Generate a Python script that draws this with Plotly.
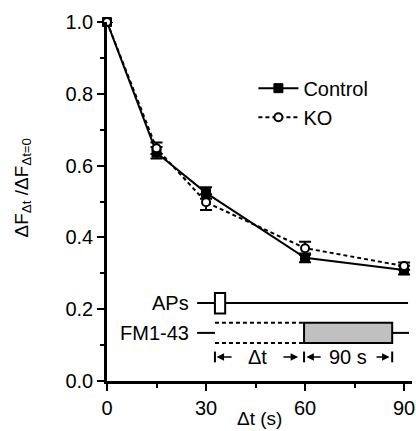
import plotly.graph_objects as go

# ---- data ----
dt = [0, 15, 30, 60, 90]
control = [1.0, 0.636, 0.524, 0.343, 0.309]
control_err = [0.0, 0.016, 0.016, 0.012, 0.012]
ko = [1.0, 0.648, 0.498, 0.370, 0.320]
ko_err = [0.0, 0.016, 0.022, 0.018, 0.010]

x_ticks = [0, 30, 60, 90]
y_ticks = [0.0, 0.2, 0.4, 0.6, 0.8, 1.0]

FONT = "Liberation Sans, Arial, sans-serif"
FS = 20

fig = go.Figure()

fig.add_trace(go.Scatter(
    x=dt, y=control, name="Control", mode="lines+markers",
    line=dict(color="black", width=2),
    marker=dict(symbol="square", size=9, color="black",
                line=dict(color="black", width=1)),
    error_y=dict(type="data", array=control_err, color="black", thickness=2, width=6),
    cliponaxis=False,
))
fig.add_trace(go.Scatter(
    x=dt, y=ko, name="KO", mode="lines+markers",
    line=dict(color="black", width=2, dash="4px,3px"),
    marker=dict(symbol="circle", size=8, color="white",
                line=dict(color="black", width=2)),
    error_y=dict(type="data", array=ko_err, color="black", thickness=2, width=6),
    cliponaxis=False,
))

# ---- protocol inset (decoration) ----
shapes = []
blk = dict(color="black", width=2)
shapes.append(dict(type="line", xref="x", yref="y", x0=27.3, x1=91.2, y0=0.217, y1=0.217, line=blk))
shapes.append(dict(type="rect", xref="x", yref="y", x0=32.7, x1=35.8, y0=0.188, y1=0.245,
                   line=blk, fillcolor="white"))
shapes.append(dict(type="line", xref="x", yref="y", x0=27.3, x1=32.7, y0=0.134, y1=0.134, line=blk))
shapes.append(dict(type="line", xref="x", yref="y", x0=32.7, x1=59.7, y0=0.162, y1=0.162,
                   line=dict(color="black", width=2, dash="4px,3px")))
shapes.append(dict(type="line", xref="x", yref="y", x0=32.7, x1=59.7, y0=0.106, y1=0.106,
                   line=dict(color="black", width=2, dash="4px,3px")))
shapes.append(dict(type="rect", xref="x", yref="y", x0=59.7, x1=86.4, y0=0.106, y1=0.162,
                   line=blk, fillcolor="#c0c0c0"))
shapes.append(dict(type="line", xref="x", yref="y", x0=86.4, x1=91.5, y0=0.134, y1=0.134, line=blk))
for xb in [32.7, 59.7, 86.4]:
    shapes.append(dict(type="line", xref="x", yref="y", x0=xb, x1=xb, y0=0.052, y1=0.082, line=blk))

tf = dict(size=FS, family=FONT, color="black")
annotations = [
    dict(x=25.3, y=0.217, xref="x", yref="y", text="APs", showarrow=False,
         xanchor="right", yanchor="middle", font=tf),
    dict(x=25.3, y=0.134, xref="x", yref="y", text="FM1-43", showarrow=False,
         xanchor="right", yanchor="middle", font=tf),
    dict(x=45.5, y=0.067, xref="x", yref="y", text="\u0394t", showarrow=False,
         xanchor="center", yanchor="middle", font=tf),
    dict(x=72.9, y=0.067, xref="x", yref="y", text="90 s", showarrow=False,
         xanchor="center", yanchor="middle", font=tf),
    dict(x=0.5, y=0, xref="paper", yref="paper", yshift=-50, text="\u0394t (s)", showarrow=False,
         xanchor="center", yanchor="bottom", font=dict(size=FS - 1, family=FONT, color="black")),
    dict(x=0, y=0.5, xref="paper", yref="paper", xshift=-85, yshift=14,
         text="\u0394F<sub>\u0394t</sub> /\u0394F<sub>\u0394t=0</sub>", textangle=-90,
         showarrow=False, xanchor="center", yanchor="middle",
         font=dict(size=FS - 1, family=FONT, color="black")),
]
# timing arrows (tip, tail)
for tip, tail in [(33.2, 38.2), (57.9, 53.0), (60.4, 65.2), (85.6, 81.2)]:
    annotations.append(dict(x=tip, y=0.067, ax=tail, ay=0.067, xref="x", yref="y",
                            axref="x", ayref="y", text="", showarrow=True,
                            arrowhead=2, arrowsize=1, arrowwidth=1.5,
                            arrowcolor="black", standoff=0, startstandoff=0))

fig.update_layout(
    width=416, height=431,
    margin=dict(l=107, r=4, t=22, b=50, autoexpand=False),
    paper_bgcolor="white", plot_bgcolor="white",
    font=dict(family=FONT, size=FS, color="black"),
    showlegend=True,
    legend=dict(x=0.48, y=0.87, xanchor="left", yanchor="top",
                bgcolor="rgba(0,0,0,0)",
                font=dict(size=FS, family=FONT), itemwidth=40,
                tracegroupgap=0),
    shapes=shapes, annotations=annotations,
    xaxis=dict(range=[0, 92.4], tickvals=x_ticks, ticks="outside", ticklen=7, tickwidth=2,
               tickcolor="black", showline=True, linecolor="black", linewidth=2.5,
               showgrid=False, zeroline=False, tickfont=tf, automargin=False,
               minor=dict(dtick=15, tick0=0, ticks="outside", ticklen=4, tickwidth=2,
                          tickcolor="black", showgrid=False)),
    yaxis=dict(range=[0, 1.0], tickvals=y_ticks, ticktext=[f"{v:.1f}" for v in y_ticks],
               ticks="outside", ticklen=7, tickwidth=2, automargin=False,
               tickcolor="black", showline=True, linecolor="black", linewidth=2.5,
               showgrid=False, zeroline=False, tickfont=tf,
               minor=dict(dtick=0.1, tick0=0, ticks="outside", ticklen=4, tickwidth=2,
                          tickcolor="black", showgrid=False)),
)

fig.write_html(
    "out.html",
    config={"displayModeBar": False},
    post_script="document.body.style.margin='0';document.body.style.overflow='hidden';"
                "document.documentElement.style.overflow='hidden';",
)
